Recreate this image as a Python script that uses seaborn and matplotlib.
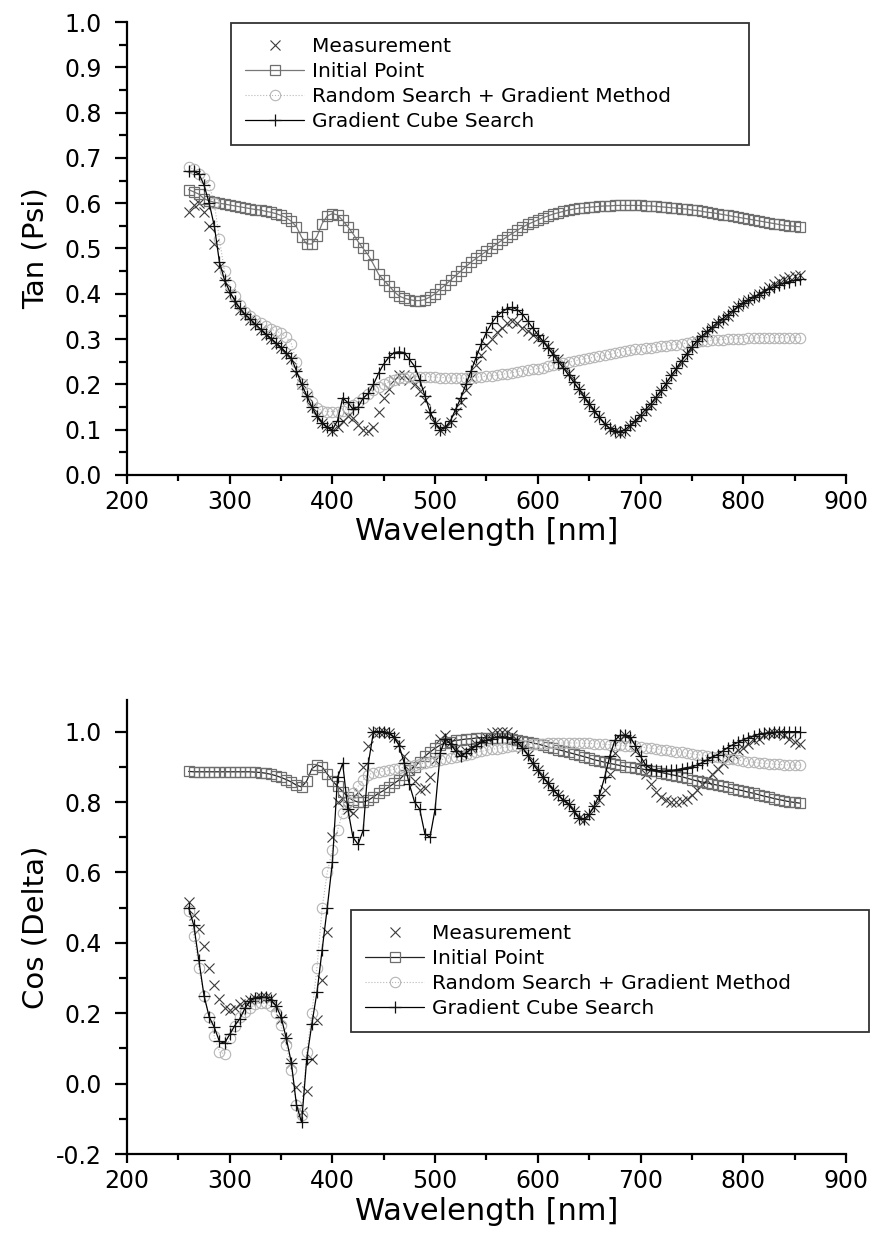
import numpy as np
import pandas as pd
import matplotlib
matplotlib.use("Agg")
import matplotlib.pyplot as plt
import seaborn as sns

# ---------------- data ----------------
wavelength = np.arange(260, 860, 5)  # nm

labels = ["Measurement", "Initial Point", "Random Search + Gradient Method", "Gradient Cube Search"]

tan_measurement = [
    0.58, 0.595, 0.60, 0.58, 0.55, 0.51, 0.46, 0.425, 0.40, 0.38,
    0.365, 0.354, 0.343, 0.332, 0.32, 0.31, 0.30, 0.29, 0.28, 0.268,
    0.256, 0.226, 0.20, 0.175, 0.15, 0.13, 0.115, 0.105, 0.097, 0.105,
    0.12, 0.13, 0.125, 0.11, 0.10, 0.097, 0.106, 0.14, 0.17, 0.19,
    0.21, 0.22, 0.22, 0.21, 0.20, 0.185, 0.165, 0.135, 0.115, 0.10,
    0.105, 0.117, 0.14, 0.162, 0.188, 0.215, 0.243, 0.265, 0.288, 0.30,
    0.315, 0.325, 0.335, 0.34, 0.335, 0.325, 0.318, 0.31, 0.303, 0.295,
    0.285, 0.27, 0.256, 0.242, 0.226, 0.21, 0.19, 0.173, 0.157, 0.142,
    0.127, 0.112, 0.102, 0.096, 0.093, 0.098, 0.108, 0.12, 0.13, 0.142,
    0.155, 0.17, 0.185, 0.20, 0.218, 0.234, 0.25, 0.267, 0.28, 0.295,
    0.305, 0.315, 0.325, 0.335, 0.343, 0.352, 0.362, 0.372, 0.38, 0.387,
    0.393, 0.40, 0.407, 0.415, 0.422, 0.428, 0.433, 0.437, 0.44, 0.442,
]
tan_initial = [
    0.63, 0.625, 0.62, 0.61, 0.605, 0.602, 0.60, 0.598, 0.596, 0.594,
    0.592, 0.59, 0.588, 0.586, 0.585, 0.582, 0.58, 0.577, 0.573, 0.568,
    0.56, 0.548, 0.525, 0.51, 0.51, 0.527, 0.555, 0.572, 0.577, 0.574,
    0.562, 0.548, 0.533, 0.515, 0.50, 0.485, 0.465, 0.443, 0.43, 0.418,
    0.405, 0.395, 0.39, 0.387, 0.385, 0.385, 0.387, 0.393, 0.40, 0.41,
    0.42, 0.43, 0.44, 0.45, 0.46, 0.47, 0.478, 0.486, 0.494, 0.502,
    0.51, 0.518, 0.526, 0.533, 0.54, 0.547, 0.553, 0.558, 0.563, 0.568,
    0.572, 0.576, 0.579, 0.582, 0.585, 0.587, 0.589, 0.59, 0.591, 0.592,
    0.593, 0.594, 0.594, 0.595, 0.595, 0.595, 0.595, 0.595, 0.595, 0.594,
    0.594, 0.593, 0.592, 0.591, 0.59, 0.589, 0.588, 0.587, 0.585, 0.584,
    0.582, 0.58, 0.579, 0.577, 0.575, 0.573, 0.571, 0.569, 0.567, 0.565,
    0.563, 0.561, 0.559, 0.557, 0.555, 0.553, 0.551, 0.55, 0.549, 0.548,
]
tan_random = [
    0.68, 0.675, 0.665, 0.655, 0.64, 0.60, 0.52, 0.45, 0.42, 0.395,
    0.375, 0.36, 0.35, 0.342, 0.335, 0.328, 0.322, 0.318, 0.313, 0.305,
    0.29, 0.25, 0.20, 0.18, 0.16, 0.148, 0.142, 0.14, 0.14, 0.14,
    0.142, 0.148, 0.155, 0.162, 0.17, 0.178, 0.187, 0.195, 0.20, 0.205,
    0.21, 0.213, 0.215, 0.216, 0.217, 0.217, 0.217, 0.217, 0.216, 0.215,
    0.215, 0.214, 0.214, 0.214, 0.214, 0.215, 0.216, 0.217, 0.218, 0.219,
    0.22, 0.222, 0.224, 0.226, 0.228, 0.23, 0.232, 0.233, 0.235, 0.237,
    0.24, 0.242, 0.244, 0.247, 0.249, 0.251, 0.254, 0.256, 0.258, 0.26,
    0.262, 0.264, 0.266, 0.269, 0.271, 0.273, 0.275, 0.277, 0.278, 0.28,
    0.281, 0.283, 0.284, 0.285, 0.287, 0.288, 0.29, 0.291, 0.293, 0.294,
    0.295, 0.296, 0.297, 0.298, 0.299, 0.30, 0.30, 0.301, 0.301, 0.302,
    0.302, 0.303, 0.303, 0.303, 0.303, 0.303, 0.303, 0.303, 0.303, 0.303,
]
tan_gradient = [
    0.67, 0.67, 0.665, 0.64, 0.60, 0.55, 0.47, 0.43, 0.405, 0.385,
    0.368, 0.355, 0.344, 0.333, 0.322, 0.312, 0.302, 0.292, 0.282, 0.27,
    0.258, 0.23, 0.20, 0.175, 0.15, 0.13, 0.115, 0.105, 0.10, 0.12,
    0.17, 0.16, 0.145, 0.15, 0.17, 0.18, 0.20, 0.225, 0.245, 0.26,
    0.27, 0.272, 0.27, 0.255, 0.24, 0.21, 0.175, 0.14, 0.115, 0.10,
    0.105, 0.12, 0.145, 0.17, 0.20, 0.23, 0.26, 0.29, 0.315, 0.335,
    0.35, 0.36, 0.367, 0.37, 0.365, 0.355, 0.34, 0.325, 0.31, 0.295,
    0.28, 0.265, 0.25, 0.236, 0.22, 0.205, 0.19, 0.173, 0.157, 0.142,
    0.127, 0.113, 0.103, 0.097, 0.095, 0.10, 0.11, 0.12, 0.132, 0.145,
    0.157, 0.172, 0.187, 0.202, 0.22, 0.236, 0.252, 0.268, 0.282, 0.296,
    0.307, 0.317, 0.327, 0.337, 0.345, 0.354, 0.363, 0.372, 0.38, 0.386,
    0.392, 0.398, 0.404, 0.41, 0.415, 0.42, 0.424, 0.427, 0.43, 0.432,
]

cos_measurement = [
    0.517, 0.48, 0.44, 0.39, 0.33, 0.28, 0.24, 0.215, 0.208, 0.215,
    0.225, 0.232, 0.238, 0.243, 0.246, 0.246, 0.242, 0.22, 0.185, 0.13,
    0.06, -0.01, -0.08, -0.02, 0.07, 0.18, 0.295, 0.43, 0.70, 0.80,
    0.81, 0.78, 0.77, 0.83, 0.90, 0.96, 1.0, 1.0, 1.0, 0.995,
    0.985, 0.965, 0.93, 0.89, 0.86, 0.835, 0.84, 0.87, 0.92, 0.98,
    0.99, 0.97, 0.95, 0.94, 0.945, 0.955, 0.965, 0.975, 0.985, 0.995,
    1.0, 1.0, 0.998, 0.99, 0.975, 0.955, 0.935, 0.91, 0.89, 0.87,
    0.853, 0.835, 0.82, 0.805, 0.795, 0.775, 0.755, 0.75, 0.762, 0.785,
    0.806, 0.835, 0.88, 0.94, 0.98, 0.99, 0.98, 0.945, 0.91, 0.88,
    0.852, 0.83, 0.815, 0.805, 0.80, 0.80, 0.802, 0.81, 0.82, 0.835,
    0.85, 0.863, 0.88, 0.895, 0.91, 0.925, 0.937, 0.947, 0.955, 0.965,
    0.975, 0.98, 0.99, 0.995, 0.997, 0.995, 0.99, 0.98, 0.97, 0.965,
]
cos_initial = [
    0.887, 0.886, 0.886, 0.886, 0.886, 0.886, 0.886, 0.886, 0.886, 0.886,
    0.886, 0.886, 0.886, 0.885, 0.884, 0.882, 0.879, 0.875, 0.87, 0.864,
    0.857, 0.848, 0.843, 0.86, 0.895, 0.905, 0.90, 0.88, 0.86, 0.845,
    0.83, 0.815, 0.805, 0.80, 0.80, 0.805, 0.815, 0.825, 0.833, 0.843,
    0.853, 0.863, 0.878, 0.89, 0.90, 0.915, 0.93, 0.942, 0.953, 0.962,
    0.968, 0.972, 0.975, 0.977, 0.979, 0.98, 0.982, 0.983, 0.983, 0.983,
    0.983, 0.982, 0.981, 0.979, 0.977, 0.974, 0.971, 0.968, 0.965, 0.961,
    0.957, 0.953, 0.949, 0.945, 0.941, 0.937, 0.933, 0.929, 0.925, 0.92,
    0.917, 0.913, 0.91, 0.907, 0.904, 0.901, 0.899, 0.897, 0.895, 0.892,
    0.889, 0.887, 0.884, 0.881, 0.878, 0.875, 0.872, 0.868, 0.864, 0.86,
    0.857, 0.854, 0.851, 0.848, 0.845, 0.842, 0.838, 0.835, 0.832, 0.828,
    0.825, 0.821, 0.817, 0.814, 0.81, 0.807, 0.804, 0.801, 0.799, 0.797,
]
cos_random = [
    0.49, 0.42, 0.33, 0.25, 0.19, 0.135, 0.09, 0.085, 0.13, 0.165,
    0.19, 0.205, 0.215, 0.225, 0.23, 0.228, 0.22, 0.20, 0.168, 0.11,
    0.04, -0.06, -0.09, 0.09, 0.20, 0.33, 0.50, 0.60, 0.665, 0.72,
    0.77, 0.80, 0.826, 0.845, 0.863, 0.878, 0.883, 0.886, 0.887, 0.89,
    0.893, 0.896, 0.899, 0.902, 0.905, 0.908, 0.911, 0.914, 0.917, 0.92,
    0.923, 0.926, 0.929, 0.932, 0.935, 0.938, 0.941, 0.944, 0.947, 0.95,
    0.952, 0.954, 0.956, 0.958, 0.96, 0.962, 0.963, 0.964, 0.965, 0.966,
    0.967, 0.967, 0.968, 0.968, 0.968, 0.968, 0.968, 0.967, 0.967, 0.966,
    0.965, 0.964, 0.963, 0.962, 0.961, 0.96, 0.959, 0.958, 0.957, 0.955,
    0.953, 0.951, 0.949, 0.947, 0.945, 0.943, 0.941, 0.939, 0.937, 0.935,
    0.933, 0.931, 0.929, 0.927, 0.925, 0.923, 0.921, 0.919, 0.917, 0.915,
    0.913, 0.911, 0.91, 0.909, 0.908, 0.907, 0.906, 0.905, 0.905, 0.905,
]
cos_gradient = [
    0.50, 0.45, 0.35, 0.25, 0.19, 0.16, 0.12, 0.115, 0.14, 0.165,
    0.185, 0.215, 0.235, 0.244, 0.247, 0.245, 0.238, 0.222, 0.19, 0.13,
    0.06, -0.06, -0.11, 0.07, 0.17, 0.26, 0.38, 0.50, 0.63, 0.87,
    0.91, 0.78, 0.70, 0.68, 0.72, 0.91, 1.0, 1.0, 1.0, 0.995,
    0.985, 0.96, 0.91, 0.85, 0.80, 0.78, 0.71, 0.70, 0.78, 0.94,
    0.98, 0.965, 0.945, 0.93, 0.94, 0.95, 0.96, 0.97, 0.975, 0.98,
    0.985, 0.985, 0.985, 0.98, 0.97, 0.955, 0.935, 0.91, 0.89, 0.87,
    0.853, 0.835, 0.82, 0.805, 0.795, 0.775, 0.755, 0.752, 0.765, 0.79,
    0.82, 0.87, 0.93, 0.975, 0.99, 0.99, 0.985, 0.96, 0.93, 0.905,
    0.895, 0.89, 0.888, 0.888, 0.89, 0.892, 0.895, 0.898, 0.90, 0.905,
    0.912, 0.92, 0.928, 0.935, 0.945, 0.955, 0.963, 0.97, 0.977, 0.983,
    0.988, 0.992, 0.995, 0.997, 0.998, 0.999, 1.0, 1.0, 1.0, 1.0,
]

x_ticks = [200, 300, 400, 500, 600, 700, 800, 900]

# ---------------- style ----------------
sns.set_style("ticks")
plt.rcParams["font.family"] = ["DejaVu Sans"]
plt.rcParams["axes.linewidth"] = 1.6
plt.rcParams["text.color"] = "black"
plt.rcParams["axes.labelcolor"] = "black"
plt.rcParams["xtick.color"] = "black"
plt.rcParams["ytick.color"] = "black"
plt.rcParams["axes.edgecolor"] = "black"

fig = plt.figure(figsize=(8.74, 12.44), dpi=100)
ax1 = fig.add_axes([0.1453, 0.6182, 0.8226, 0.3641])
ax2 = fig.add_axes([0.1453, 0.0723, 0.8226, 0.3650])

MEAS_C = "#3c3c3c"


def draw(ax, meas, init, rand, grad, init_line, grad_marker):
    sns.lineplot(x=wavelength, y=meas, ax=ax, estimator=None, sort=False,
                 linestyle="", marker="x", markersize=7.5, markeredgewidth=0.8,
                 color=MEAS_C, markeredgecolor=MEAS_C, label=labels[0])
    sns.lineplot(x=wavelength, y=init, ax=ax, estimator=None, sort=False,
                 color=init_line, linewidth=0.9, marker="s", markersize=7,
                 markerfacecolor="none", markeredgecolor="#6e6e6e",
                 markeredgewidth=0.9, label=labels[1])
    sns.lineplot(x=wavelength, y=rand, ax=ax, estimator=None, sort=False,
                 color="#b8b8b8", linewidth=0.8, linestyle=":", marker="o",
                 markersize=7.5, markerfacecolor="none",
                 markeredgecolor="#b5b5b5", markeredgewidth=0.8,
                 label=labels[2])
    sns.lineplot(x=wavelength, y=grad, ax=ax, estimator=None, sort=False,
                 color="black", linewidth=0.9, marker=grad_marker,
                 markersize=8, markeredgewidth=0.9, markeredgecolor="#111111",
                 label=labels[3])


draw(ax1, tan_measurement, tan_initial, tan_random, tan_gradient, "#777777", "+")
draw(ax2, cos_measurement, cos_initial, cos_random, cos_gradient, "#222222", "+")

for ax in (ax1, ax2):
    ax.set_xlim(200, 900)
    ax.set_xticks(x_ticks)
    ax.set_xticks(np.arange(250, 900, 100), minor=True)
    ax.tick_params(axis="both", which="both", direction="out", width=1.6,
                   labelsize=17, colors="black")
    ax.tick_params(axis="y", which="major", length=9, pad=9)
    ax.tick_params(axis="y", which="minor", length=5.5)
    ax.tick_params(axis="x", which="major", length=6.5, pad=4)
    ax.tick_params(axis="x", which="minor", length=4.5)
    sns.despine(ax=ax, top=True, right=True)
    ax.set_xlabel("Wavelength [nm]", fontsize=22)

ax1.set_ylim(0.0, 1.0)
ax1.set_yticks(np.arange(0.0, 1.01, 0.1))
ax1.set_yticks(np.arange(0.05, 1.0, 0.1), minor=True)
ax1.set_yticklabels([f"{v:.1f}" for v in np.arange(0.0, 1.01, 0.1)])
ax1.set_ylabel("Tan (Psi)", fontsize=21)

ax2.set_ylim(-0.2, 1.09)
ax2.set_yticks(np.arange(-0.2, 1.01, 0.2))
ax2.set_yticks(np.arange(-0.1, 1.05, 0.2), minor=True)
ax2.set_yticklabels([f"{v:.1f}".replace("-0.0", "0.0") for v in np.arange(-0.2, 1.01, 0.2)])
ax2.set_ylabel("Cos (Delta)", fontsize=21)

for ax in (ax1, ax2):
    ax.yaxis.set_label_coords(-0.108, 0.5)
ax1.xaxis.set_label_coords(0.5, -0.093)
ax2.xaxis.set_label_coords(0.5, -0.094)

# legends
LEG_KW = dict(loc="upper left", mode="expand", fontsize=14.5, frameon=True,
              fancybox=False, borderpad=0.7, labelspacing=0.3,
              handlelength=2.95, handletextpad=0.35, borderaxespad=0.0)

h1, l1 = ax1.get_legend_handles_labels()
leg1 = ax1.legend(h1, l1, bbox_to_anchor=(0.1446, 0.998, 0.72, 0.0), **LEG_KW)
leg1.get_frame().set_edgecolor("black")
leg1.get_frame().set_linewidth(1.3)

h2, l2 = ax2.get_legend_handles_labels()
leg2 = ax2.legend(h2, l2, bbox_to_anchor=(0.3115, 0.5374, 0.7204, 0.0), **LEG_KW)
leg2.get_frame().set_edgecolor("black")
leg2.get_frame().set_linewidth(1.3)

fig.savefig("out.png", dpi=100)
